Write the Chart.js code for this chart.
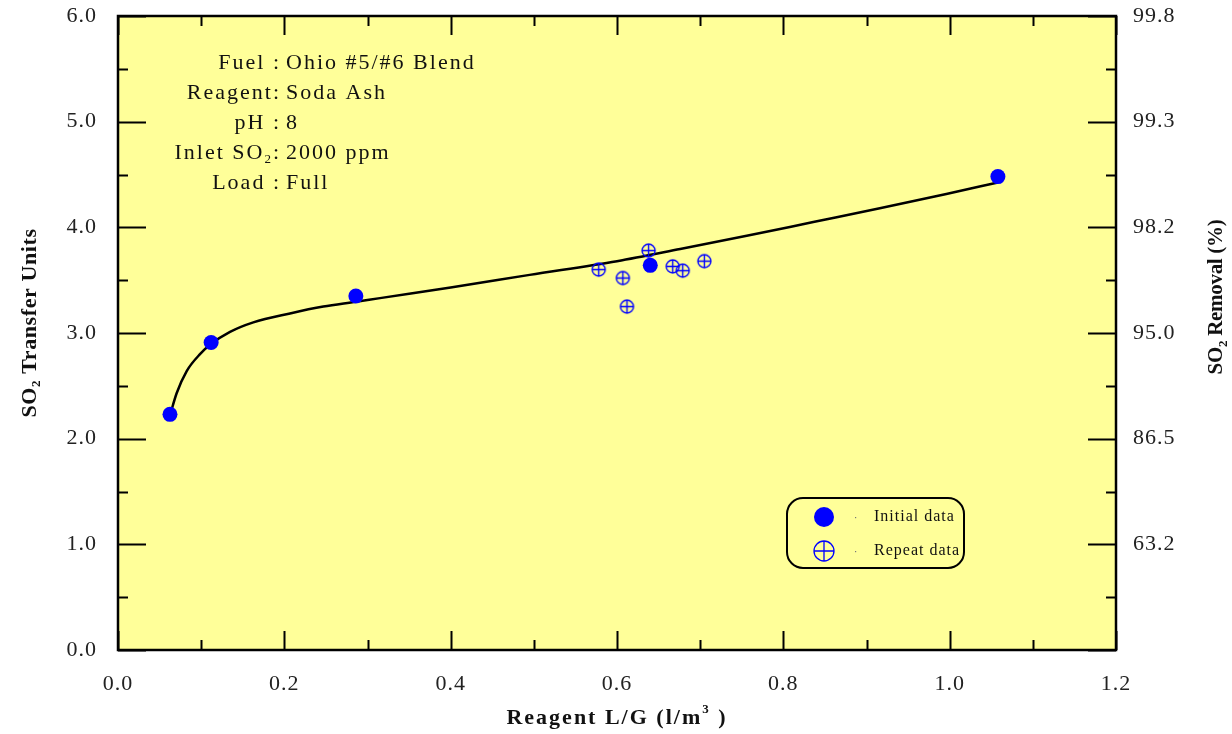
<!DOCTYPE html>
<html><head><meta charset="utf-8">
<script src="https://cdn.jsdelivr.net/npm/chart.js@4.4.1/dist/chart.umd.min.js"></script>
<style>html,body{margin:0;padding:0;background:#fff}#wrap{width:1232px;height:734px;position:relative}</style>
</head><body><div id="wrap"><canvas id="c"></canvas></div>
<script>
// ---- data ----
const initialX = [0.0625, 0.112, 0.286, 0.640, 1.058];
const initialY = [2.23, 2.91, 3.35, 3.64, 4.48];
const repeatX = [0.578, 0.638, 0.607, 0.612, 0.667, 0.679, 0.705];
const repeatY = [3.60, 3.78, 3.52, 3.25, 3.63, 3.59, 3.68];
const fitX = [0.0625, 0.0705, 0.0826, 0.0986, 0.1118, 0.1347, 0.1627, 0.2068, 0.2469, 0.2862, 0.315, 0.40, 0.495, 0.60, 0.676, 0.756, 0.836, 0.916, 0.996, 1.058];
const fitY = [2.22, 2.43, 2.64, 2.80, 2.895, 3.01, 3.10, 3.185, 3.25, 3.295, 3.33, 3.43, 3.55, 3.68, 3.795, 3.92, 4.05, 4.18, 4.315, 4.425];
const rightTickValues = [1, 2, 3, 4, 5, 6];
const rightTickLabels = ['63.2', '86.5', '95.0', '98.2', '99.3', '99.8'];
const infoLeft = ['Fuel :', 'Reagent:', 'pH :', 'Inlet SO|2|:', 'Load :'];
const infoRight = ['Ohio #5/#6 Blend', 'Soda Ash', '8', '2000 ppm', 'Full'];
const legendLabels = ['Initial data', 'Repeat data'];

const FONT = "'Liberation Serif', 'Times New Roman', serif";
const BLUE = '#0000FF';
const YELLOW = '#FFFF99';

function makeRepeatMarker(r, lw) {
  const s = Math.ceil(2 * r + 4);
  const c = document.createElement('canvas');
  c.width = s; c.height = s;
  const g = c.getContext('2d');
  g.strokeStyle = BLUE; g.lineWidth = lw;
  g.beginPath(); g.arc(s / 2, s / 2, r, 0, 2 * Math.PI); g.stroke();
  g.beginPath();
  g.moveTo(s / 2 - r, s / 2); g.lineTo(s / 2 + r, s / 2);
  g.moveTo(s / 2, s / 2 - r); g.lineTo(s / 2, s / 2 + r);
  g.stroke();
  return c;
}
const repeatMarker = makeRepeatMarker(6.5, 1.4);

const zip = (xs, ys) => xs.map((x, i) => ({ x, y: ys[i] }));

function richParts(str) {
  const p = str.split('|');
  return p.map((t, i) => ({ t, sub: i % 2 === 1 }));
}
function drawRich(ctx, parts, x, y, size, bold, align, spacing, subMode) {
  const w = (p) => { ctx.font = (bold ? 'bold ' : '') + (p.sub ? Math.round(size * 0.6) : size) + 'px ' + FONT; return ctx.measureText(p.t).width; };
  ctx.letterSpacing = spacing + 'px';
  let total = 0; parts.forEach(p => total += w(p));
  let cx = align === 'center' ? x - total / 2 : (align === 'right' ? x - total : x);
  ctx.textAlign = 'left'; ctx.textBaseline = 'middle';
  parts.forEach(p => {
    const ww = w(p);
    const dy = p.sub ? (subMode === 'sup' ? -size * 0.4 : size * 0.3) : 0;
    ctx.fillText(p.t, cx, y + dy);
    cx += ww;
  });
}

const noPad = s => { s.paddingTop = 0; s.paddingBottom = 0; s.paddingLeft = 0; s.paddingRight = 0; };

const deco = {
  id: 'deco',
  beforeDraw(chart) {
    const { ctx, chartArea: a } = chart;
    ctx.save();
    ctx.fillStyle = YELLOW;
    ctx.fillRect(a.left, a.top, a.right - a.left, a.bottom - a.top);
    ctx.restore();
    ctx.letterSpacing = '1px';
  },
  afterDraw(chart) {
    const { ctx, chartArea: a, scales } = chart;
    const xs = scales.x, ys = scales.y;
    ctx.save();
    ctx.letterSpacing = '0px';
    ctx.strokeStyle = '#000';
    ctx.lineWidth = 2;
    ctx.beginPath();
    for (let i = 0; i <= 12; i++) {
      const px = Math.round(xs.getPixelForValue(i / 10)) + 0.5;
      const len = i % 2 === 0 ? 19 : 10;
      ctx.moveTo(px, a.bottom); ctx.lineTo(px, a.bottom - len);
      ctx.moveTo(px, a.top); ctx.lineTo(px, a.top + len);
    }
    for (let i = 0; i <= 12; i++) {
      const py = Math.round(ys.getPixelForValue(i / 2)) + 0.5;
      const len = i % 2 === 0 ? 28 : 10;
      ctx.moveTo(a.left, py); ctx.lineTo(a.left + len, py);
      ctx.moveTo(a.right, py); ctx.lineTo(a.right - len, py);
    }
    ctx.stroke();
    ctx.lineWidth = 2.5;
    ctx.strokeRect(a.left, a.top, a.right - a.left, a.bottom - a.top);

    ctx.fillStyle = '#111';
    const lineY = [63, 93, 123, 153, 183];
    infoLeft.forEach((t, i) => {
      drawRich(ctx, richParts(t), 281, lineY[i], 22, false, 'right', 2, 'sub');
      drawRich(ctx, [{ t: infoRight[i], sub: false }], 286, lineY[i], 22, false, 'left', 2, 'sub');
    });

    ctx.beginPath();
    ctx.roundRect(787, 498, 177, 70, 16);
    ctx.fillStyle = YELLOW; ctx.fill();
    ctx.lineWidth = 2; ctx.strokeStyle = '#000'; ctx.stroke();
    ctx.fillStyle = BLUE;
    ctx.beginPath(); ctx.arc(824, 517, 10, 0, 2 * Math.PI); ctx.fill();
    ctx.strokeStyle = BLUE; ctx.lineWidth = 1.3;
    ctx.beginPath(); ctx.arc(824, 551, 10, 0, 2 * Math.PI);
    ctx.moveTo(814, 551); ctx.lineTo(834, 551); ctx.moveTo(824, 541); ctx.lineTo(824, 561);
    ctx.stroke();
    ctx.fillStyle = '#777';
    ctx.fillRect(855, 517, 1.2, 1.2); ctx.fillRect(855, 551, 1.2, 1.2);
    ctx.fillStyle = '#111';
    drawRich(ctx, [{ t: legendLabels[0], sub: false }], 874, 517, 16, false, 'left', 1, 'sub');
    drawRich(ctx, [{ t: legendLabels[1], sub: false }], 874, 551, 16, false, 'left', 1, 'sub');

    ctx.fillStyle = '#111';
    drawRich(ctx, [{ t: 'Reagent L/G (l/m', sub: false }, { t: '3', sub: true }, { t: ' )', sub: false }], 617, 718, 22, true, 'center', 2, 'sup');
    ctx.save();
    ctx.translate(30, 323); ctx.rotate(-Math.PI / 2);
    drawRich(ctx, richParts('SO|2| Transfer Units'), 0, 0, 22, true, 'center', 0.6, 'sub');
    ctx.restore();
    ctx.save();
    ctx.translate(1217, 297); ctx.rotate(-Math.PI / 2);
    drawRich(ctx, richParts('SO|2| Removal (%)'), 0, 0, 21, true, 'center', -0.3, 'sub');
    ctx.restore();
    ctx.restore();
  }
};

new Chart(document.getElementById('c'), {
  type: 'scatter',
  data: {
    datasets: [
      { label: legendLabels[0], data: zip(initialX, initialY), pointStyle: 'circle', pointRadius: 7.5, backgroundColor: BLUE, borderColor: BLUE, borderWidth: 0, order: 1 },
      { label: legendLabels[1], data: zip(repeatX, repeatY), pointStyle: repeatMarker, pointRadius: 7, order: 2 },
      { label: 'fit', type: 'line', data: zip(fitX, fitY), showLine: true, borderColor: '#000', borderWidth: 2.5, pointRadius: 0, cubicInterpolationMode: 'monotone', fill: false, order: 3 }
    ]
  },
  options: {
    responsive: true, maintainAspectRatio: false, animation: false,
    layout: { autoPadding: false, padding: { top: 16, left: 0, right: 0, bottom: 0 } },
    plugins: { legend: { display: false }, tooltip: { enabled: false } },
    events: [],
    scales: {
      x: {
        type: 'linear', min: 0, max: 1.2,
        ticks: { stepSize: 0.2, padding: 21, color: '#222', font: { family: FONT, size: 22 }, callback: v => v.toFixed(1), maxRotation: 0 },
        grid: { display: false, drawTicks: false },
        border: { display: false },
        afterFit: s => { s.height = 84; noPad(s); }
      },
      y: {
        type: 'linear', position: 'left', min: 0, max: 6,
        ticks: { stepSize: 1, padding: 21, color: '#222', font: { family: FONT, size: 22 }, callback: v => v.toFixed(1) },
        grid: { display: false, drawTicks: false },
        border: { display: false },
        afterFit: s => { s.width = 118; noPad(s); }
      },
      y2: {
        type: 'linear', position: 'right', min: 0, max: 6,
        afterBuildTicks: s => { s.ticks = rightTickValues.map(v => ({ value: v })); },
        ticks: { padding: 17, color: '#222', font: { family: FONT, size: 22 }, callback: (v) => rightTickLabels[rightTickValues.indexOf(v)] },
        grid: { display: false, drawTicks: false },
        border: { display: false },
        afterFit: s => { s.width = 116; noPad(s); }
      }
    }
  },
  plugins: [deco]
});
</script>
</body></html>
